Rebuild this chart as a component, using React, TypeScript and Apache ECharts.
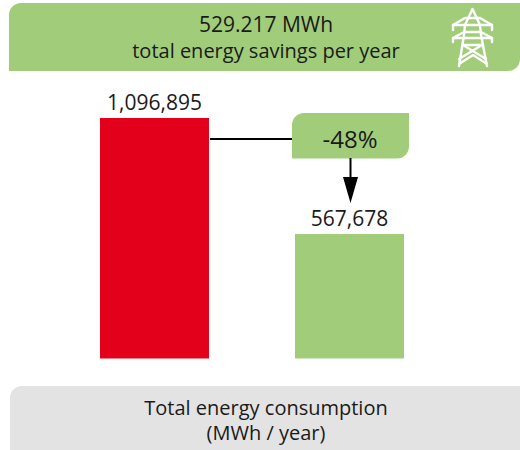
import React, { useEffect, useRef } from "react";
import * as echarts from "echarts";

const categories = ["Before", "After"];
const consumption = [1096895, 567678];
const barColors = ["#E2001A", "#A1CD7A"];
const savingsText = ["529.217 MWh", "total energy savings per year"];
const axisText = ["Total energy consumption", "(MWh / year)"];
const changeText = "-48%";
const FONT = "'Open Sans', sans-serif";
const GREEN = "#A1CD7A";
const GREY = "#E3E3E3";
const INK = "#1a1a1a";

const label = (text: string, x: number, y: number, size = 20) => ({
  type: "text" as const,
  x,
  y,
  z: 10,
  style: { text, fontFamily: FONT, fontSize: size, fill: INK, align: "center", verticalAlign: "middle" },
});

const stroke = (points: number[][]) => ({
  type: "polyline" as const,
  shape: { points },
  style: { stroke: "#fff", lineWidth: 2.4, fill: "none", lineJoin: "round", lineCap: "round" },
});

export default function App() {
  const ref = useRef<HTMLDivElement>(null);
  useEffect(() => {
    document.body.style.margin = "0";
    const chart = echarts.init(ref.current!, null, { renderer: "svg" });
    chart.setOption({
      animation: false,
      backgroundColor: "#fff",
      grid: { left: 57, width: 390, top: 118, height: 240.5 },
      xAxis: { type: "category", data: categories, show: false },
      yAxis: { type: "value", min: 0, max: consumption[0], show: false },
      series: [
        {
          type: "bar",
          barWidth: 109,
          data: consumption.map((value, i) => ({ value, itemStyle: { color: barColors[i] } })),
          label: {
            show: true,
            position: "top",
            distance: 6,
            fontFamily: FONT,
            fontSize: 21,
            color: INK,
            formatter: (p: any) => p.value.toLocaleString("en-US"),
          },
        },
      ],
      graphic: [
        { type: "rect", shape: { x: 9, y: 3, width: 511, height: 68, r: [12, 0, 12, 0] }, style: { fill: GREEN } },
        label(savingsText[0], 266, 24, 21),
        label(savingsText[1], 266, 50),
        {
          type: "group",
          children: [
            stroke([[459, 66], [464, 35], [465, 25], [472.5, 9], [480, 25], [481, 35], [487, 66]]),
            stroke([[453, 30], [453, 25], [465, 18], [480, 18], [492, 25], [492, 30]]),
            stroke([[453, 25], [492, 25]]),
            stroke([[453, 42], [453, 38], [464, 32], [481, 32], [492, 38], [492, 42]]),
            stroke([[453, 38], [492, 38]]),
            stroke([[463, 45], [482, 45]]),
            stroke([[463, 45], [486, 59]]),
            stroke([[482, 45], [459, 59]]),
            stroke([[459, 64], [473, 55], [487, 64]]),
          ],
        },
        { type: "line", shape: { x1: 210, y1: 139, x2: 292, y2: 139 }, style: { stroke: "#000", lineWidth: 2 } },
        { type: "rect", shape: { x: 292, y: 113, width: 117, height: 45.5, r: [12, 0, 12, 0] }, style: { fill: GREEN } },
        label(changeText, 350, 138, 24),
        { type: "line", shape: { x1: 350.5, y1: 158, x2: 350.5, y2: 180 }, style: { stroke: "#000", lineWidth: 2 } },
        { type: "polygon", shape: { points: [[343, 177], [358, 177], [350.5, 203]] }, style: { fill: "#000" } },
        { type: "rect", shape: { x: 10, y: 386, width: 510, height: 64, r: [12, 0, 0, 0] }, style: { fill: GREY } },
        label(axisText[0], 266, 407),
        label(axisText[1], 266, 432),
      ],
    });
    return () => chart.dispose();
  }, []);
  return <div ref={ref} style={{ width: 520, height: 450 }} />;
}
